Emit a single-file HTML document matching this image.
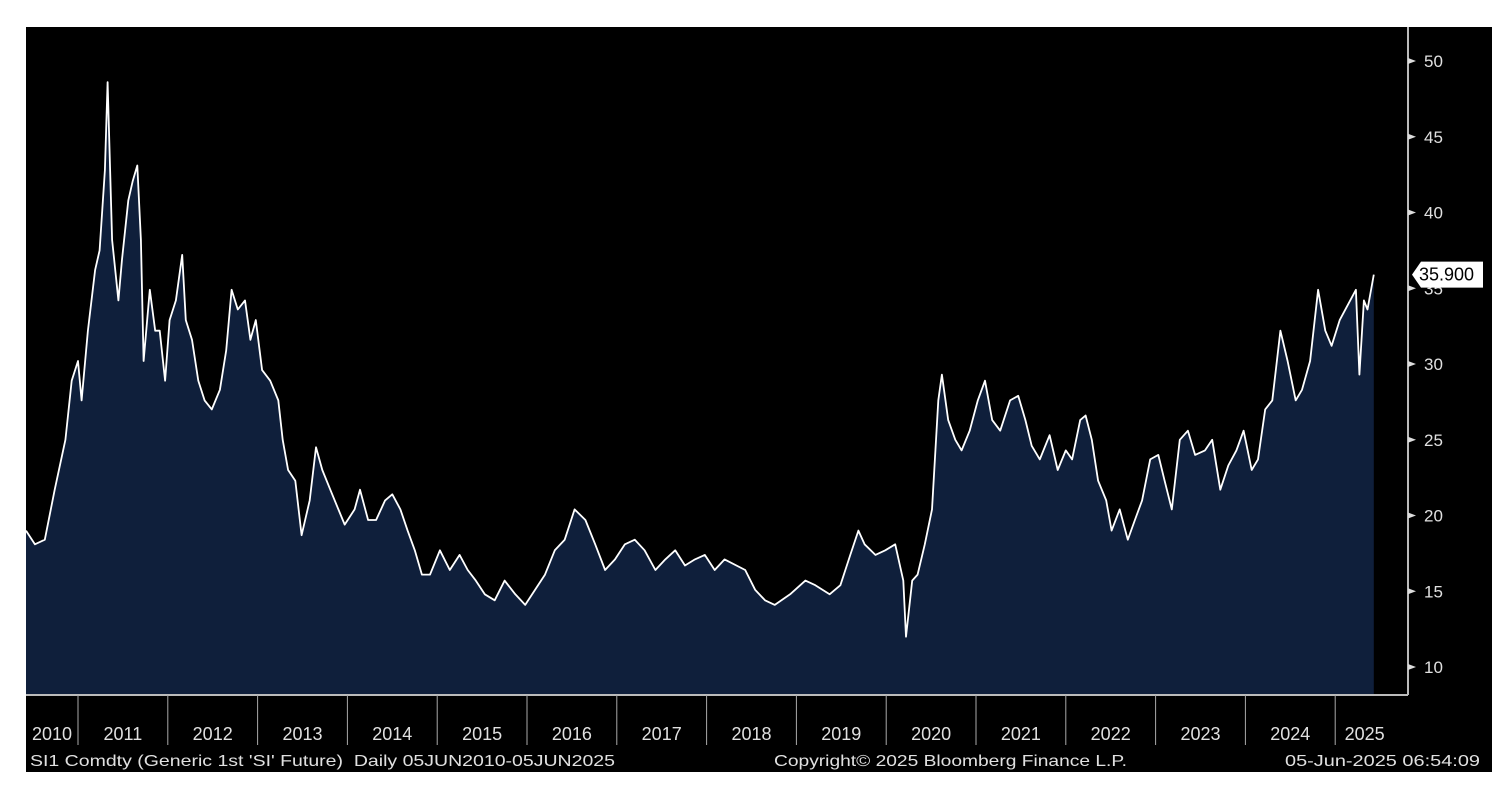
<!DOCTYPE html>
<html><head><meta charset="utf-8"><style>
html,body{margin:0;padding:0;background:#fff;}
svg{display:block;font-family:"Liberation Sans","DejaVu Sans",sans-serif;}
</style></head><body>
<svg id="chart" width="1500" height="792">
<rect x="26" y="27" width="1466" height="745" fill="#000"/>
<g id="plot"></g>
<g id="axes"></g>
<text x="30" y="766" fill="#e0e0e0" font-size="16" textLength="585" lengthAdjust="spacingAndGlyphs" xml:space="preserve">SI1 Comdty (Generic 1st 'SI' Future)  Daily 05JUN2010-05JUN2025</text>
<text x="774" y="766" fill="#e0e0e0" font-size="16" textLength="353" lengthAdjust="spacingAndGlyphs">Copyright© 2025 Bloomberg Finance L.P.</text>
<text x="1285" y="766" fill="#e0e0e0" font-size="16" textLength="195" lengthAdjust="spacingAndGlyphs">05-Jun-2025 06:54:09</text>
</svg>
<script>
const dates=[2010.42,2010.52,2010.63,2010.74,2010.86,2010.93,2011.0,2011.04,2011.11,2011.19,2011.24,2011.30,2011.33,2011.38,2011.45,2011.49,2011.56,2011.61,2011.66,2011.70,2011.73,2011.80,2011.86,2011.91,2011.97,2012.02,2012.09,2012.16,2012.20,2012.27,2012.34,2012.41,2012.49,2012.58,2012.65,2012.71,2012.78,2012.86,2012.92,2012.98,2013.05,2013.14,2013.23,2013.28,2013.34,2013.42,2013.49,2013.58,2013.65,2013.72,2013.81,2013.90,2013.97,2014.08,2014.14,2014.23,2014.32,2014.42,2014.50,2014.59,2014.67,2014.75,2014.83,2014.92,2015.03,2015.14,2015.25,2015.34,2015.43,2015.53,2015.64,2015.75,2015.87,2015.98,2016.09,2016.20,2016.31,2016.42,2016.53,2016.65,2016.76,2016.87,2016.98,2017.09,2017.20,2017.31,2017.43,2017.54,2017.65,2017.76,2017.87,2017.98,2018.09,2018.20,2018.43,2018.54,2018.65,2018.76,2018.93,2019.10,2019.21,2019.37,2019.49,2019.60,2019.69,2019.76,2019.88,2019.99,2020.10,2020.19,2020.22,2020.29,2020.35,2020.43,2020.51,2020.58,2020.62,2020.69,2020.77,2020.84,2020.93,2021.02,2021.10,2021.18,2021.27,2021.38,2021.47,2021.55,2021.62,2021.71,2021.82,2021.91,2022.00,2022.07,2022.16,2022.22,2022.29,2022.36,2022.45,2022.51,2022.60,2022.69,2022.77,2022.85,2022.94,2023.03,2023.10,2023.18,2023.27,2023.36,2023.44,2023.55,2023.63,2023.72,2023.81,2023.90,2023.98,2024.07,2024.14,2024.22,2024.30,2024.39,2024.47,2024.56,2024.63,2024.72,2024.81,2024.89,2024.96,2025.05,2025.14,2025.23,2025.27,2025.32,2025.36,2025.43];
const prices=[19.0,18.1,18.4,21.7,25.0,28.9,30.2,27.6,32.2,36.2,37.5,42.8,48.6,38.2,34.2,36.9,40.8,42.1,43.1,38.2,30.2,34.9,32.2,32.2,28.9,32.9,34.2,37.2,32.9,31.6,28.9,27.6,27.0,28.3,30.9,34.9,33.6,34.2,31.6,32.9,29.6,28.9,27.6,25.0,23.0,22.3,18.7,21.0,24.5,23.0,21.7,20.4,19.4,20.4,21.7,19.7,19.7,21.0,21.4,20.4,19.0,17.7,16.1,16.1,17.7,16.4,17.4,16.4,15.7,14.8,14.4,15.7,14.8,14.1,15.1,16.1,17.7,18.4,20.4,19.7,18.1,16.4,17.1,18.1,18.4,17.7,16.4,17.1,17.7,16.7,17.1,17.4,16.4,17.1,16.4,15.1,14.4,14.1,14.8,15.7,15.4,14.8,15.4,17.4,19.0,18.1,17.4,17.7,18.1,15.7,12.0,15.7,16.1,18.1,20.4,27.6,29.3,26.3,25.0,24.3,25.6,27.6,28.9,26.3,25.6,27.6,27.9,26.3,24.6,23.7,25.3,23.0,24.3,23.7,26.3,26.6,25.0,22.3,21.0,19.0,20.4,18.4,19.7,21.0,23.7,24.0,22.3,20.4,25.0,25.6,24.0,24.3,25.0,21.7,23.3,24.3,25.6,23.0,23.7,27.0,27.6,32.2,30.2,27.6,28.3,30.2,34.9,32.2,31.2,32.9,33.9,34.9,29.3,34.2,33.6,35.9];
const yTicks=[10,15,20,25,30,35,40,45,50];
const years=[2010,2011,2012,2013,2014,2015,2016,2017,2018,2019,2020,2021,2022,2023,2024,2025];
const NS='http://www.w3.org/2000/svg';
const X=t=>78+(t-2011)*89.8;
const Y=v=>667-(v-10)*15.15;
const x0=26,x1=1408,yb=695;
const plot=document.getElementById('plot'),axes=document.getElementById('axes');
function mk(tag,attrs,parent){const e=document.createElementNS(NS,tag);for(const k in attrs)e.setAttribute(k,attrs[k]);parent.appendChild(e);return e;}
let pts=dates.map((d,i)=>[Math.max(x0,X(d)),Y(prices[i])]);
let line='M'+pts.map(p=>p[0].toFixed(1)+','+p[1].toFixed(1)).join(' L');
const area=mk('path',{d:line+` L${pts[pts.length-1][0].toFixed(1)},${yb} L${pts[0][0].toFixed(1)},${yb} Z`,fill:'#0f1f3b'},plot);


const ln=mk('path',{d:line,fill:'none',stroke:'#fff','stroke-width':1.8,'stroke-linejoin':'round'},plot);


const ax=mk('line',{x1:x0,y1:yb,x2:x1,y2:yb,stroke:'#bbb','stroke-width':2},axes);


const ay=mk('line',{x1:x1,y1:27,x2:x1,y2:yb,stroke:'#bbb','stroke-width':2},axes);


yTicks.forEach(v=>{
 const y=Y(v);
 const tk=mk('path',{d:`M${x1},${y-3} L${x1+8},${y} L${x1},${y+3} Z`,fill:'#ddd'},axes);
 
 
 const t=mk('text',{x:x1+16,y:y+6,fill:'#e0e0e0','font-size':17},axes);t.textContent=v;
 
 
});
years.forEach(yr=>{
 const xs=Math.max(x0,X(yr)), xe=Math.min(1408,X(yr+1));
 if(yr>2010){const d=mk('line',{x1:X(yr),y1:yb,x2:X(yr),y2:745,stroke:'#aaa','stroke-width':1},axes);
 
 }
 const cx=yr===2025?(X(2025)+1394)/2:(xs+xe)/2;
 const t=mk('text',{x:cx,y:740,fill:'#e0e0e0','font-size':18,'text-anchor':'middle'},axes);t.textContent=yr;
 
 
});
const last=prices[prices.length-1],ly=Y(last);
const lb=mk('path',{d:`M${x1+4},${ly} L${x1+13},${ly-13} L1483,${ly-13} L1483,${ly+13} L${x1+13},${ly+13} Z`,fill:'#fff'},axes);


const lt=mk('text',{x:1419,y:ly+6,fill:'#000','font-size':18},axes);lt.textContent=last.toFixed(3);


</script>
</body></html>
